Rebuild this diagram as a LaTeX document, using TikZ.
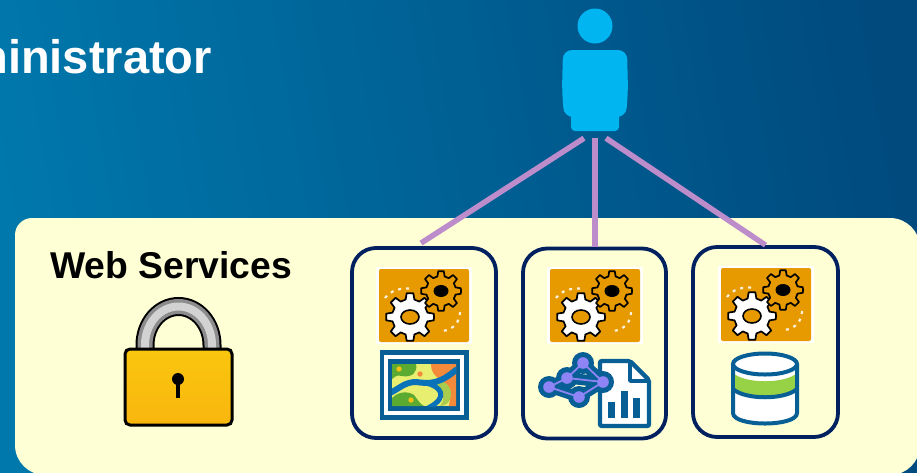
\documentclass[tikz,border=0pt]{standalone}
\usepackage{fontspec}
\setmainfont{Liberation Sans}
\usetikzlibrary{calc}
\definecolor{panelc}{HTML}{FFFFD5}
\definecolor{navy}{HTML}{002060}
\definecolor{skyc}{HTML}{00B5F0}
\definecolor{linkc}{HTML}{BD8CCB}
\definecolor{iconblue}{HTML}{075F95}
\definecolor{tileor}{HTML}{E79A00}
\definecolor{nodev}{HTML}{8E84F5}
\definecolor{mapgreen}{HTML}{5BAA32}
\definecolor{mapyel}{HTML}{E8EE70}
\definecolor{maplime}{HTML}{A8CC4E}
\definecolor{maporange}{HTML}{F58A3A}
\definecolor{mapriver}{HTML}{0A72B8}
\definecolor{gold}{HTML}{F8C010}
\definecolor{bgA}{HTML}{0078AC}
\definecolor{bgB}{HTML}{004A7E}
\tikzset{
  x=1pt,y=-1pt,
  bigtext/.style={font=\fontsize{47}{50}\selectfont\bfseries,text=white,inner sep=0pt},
  titletext/.style={font=\fontsize{37.3}{40}\selectfont\bfseries,text=black,inner sep=0pt},
  svcbox/.style={draw=navy,line width=3.8pt,rounded corners=24pt,minimum height=190pt,inner sep=0pt},
  link/.style={draw=linkc,line width=5.5pt},
  gearline/.style={draw=black,line width=1.7pt,line join=round},
  gearpic/.pic={
    \fill[white] (0,0) rectangle (96,77);
    \fill[tileor,rounded corners=2pt] (3,2) rectangle (93,75);
    \draw[white!85!tileor,line width=2.2pt,dash pattern=on 3pt off 5pt] (9,31) .. controls (14,24) and (24,20) .. (37,22);
    \draw[white!85!tileor,line width=2.2pt,dash pattern=on 3pt off 5pt] (84,45) .. controls (84,54) and (78,63) .. (66,64);
    \begin{scope}[shift={(34,50)}]
      \draw[gearline,fill=white] (0:24)
        \foreach \a in {0,45,...,315}{
          -- ({\a+8}:24) -- ({\a+14}:18) -- ({\a+31}:18) -- ({\a+37}:24)
        } -- cycle;
      \draw[black,line width=1.6pt,fill=tileor] (0,0) ellipse (9 and 7);
    \end{scope}
    \begin{scope}[shift={(65,24)}]
      \draw[gearline,fill=tileor] (0:20)
        \foreach \a in {0,45,...,315}{
          -- ({\a+8}:20) -- ({\a+14}:15) -- ({\a+31}:15) -- ({\a+37}:20)
        } -- cycle;
      \fill[black] (0,0) ellipse (7.5 and 6);
    \end{scope}
  }
}
\begin{document}
\begin{tikzpicture}
\useasboundingbox (0,0) rectangle (917,472);
\clip (0,0) rectangle (917,472);
\shade[left color=bgA,right color=bgB,shading angle=100] (-20,-20) rectangle (937,492);
\fill[panelc,rounded corners=17pt] (15,320) -- (15,218) -- (400,218) [rounded corners=30pt] -- (920,218) -- (920,475) -- (15,475) -- cycle;

\node[bigtext,anchor=base east] (admin) at (212,73) {Administrator};
\node[titletext,anchor=base west] (websvc) at (50,278) {Web Services};

% person
\fill[skyc] (595,26) circle (17.5);
\node[fill=skyc,rounded corners=4pt,minimum width=48pt,minimum height=24pt,inner sep=0pt] (person) at (595,119) {};
\fill[skyc,rounded corners=9pt] (563,50) -- (627,50) -- (628,90) -- (626,117) -- (564,117) -- (562,90) -- cycle;
\coordinate (plL) at ($(person.south)+(-11,7)$);
\coordinate (plM) at ($(person.south)+(0,7)$);
\coordinate (plR) at ($(person.south)+(11,7)$);

% service boxes
\node[svcbox,minimum width=144pt] (box1) at (424,343) {};
\node[svcbox,minimum width=143pt] (box2) at (594.5,343.5) {};
\node[svcbox,minimum width=145pt] (box3) at (765.5,342) {};

% links
\draw[link] (plL) -- ($(box1.north)+(-3,-3)$);
\draw[link] (plM) -- ($(box2.north)+(0.5,0)$);
\draw[link] (plR) -- (box3.north);

% gear tiles
\pic at (376,267) {gearpic};
\pic at (547,267) {gearpic};
\pic at (718,266) {gearpic};

% map icon
\fill[iconblue] (380,350) rectangle (469,420);
\fill[white] (384,355) rectangle (464,415);
\fill[iconblue] (388,359) rectangle (460,411);
\begin{scope}
  \clip (392,364) rectangle (456,406);
  \fill[mapyel] (392,364) rectangle (456,406);
  \fill[mapgreen] (392,364) -- (416,364) .. controls (418,372) and (412,378) .. (402,376) .. controls (396,374) and (394,378) .. (392,379) -- cycle;
  \fill[mapgreen] (392,398) .. controls (400,390) and (410,392) .. (414,395) .. controls (418,400) and (420,404) .. (424,406) -- (392,406) -- cycle;
  \fill[maporange] (431,364) -- (456,364) -- (456,406) -- (449,406) .. controls (452,392) and (446,382) .. (438,378) .. controls (433,374) and (431,370) .. (431,364) -- cycle;
  \fill[maplime] (432,382) .. controls (444,378) and (452,386) .. (451,396) .. controls (450,402) and (446,406) .. (440,406) .. controls (448,396) and (440,388) .. (432,382) -- cycle;
  \draw[mapriver,line width=6pt] (390,393) .. controls (400,388) and (405,382) .. (416,382) .. controls (430,384) and (440,384) .. (457,369);
  \draw[mapriver,line width=5pt] (426,383) .. controls (440,386) and (450,397) .. (428,408);
  \fill[gold] (399,369) circle (2.7);
  \fill[maporange] (420,374) circle (2.7);
  \fill[gold] (411,400) circle (2.7);
\end{scope}

% document + network icon
\draw[iconblue,line width=4.4pt,fill=white,rounded corners=2pt] (600,361) -- (630,361) -- (649,380) -- (649,426) -- (600,426) -- cycle;
\draw[iconblue,line width=3.6pt,line join=round] (630,361) -- (630,381) -- (649,381);
\fill[iconblue] (608,402) rectangle (615,418);
\fill[iconblue] (621,391) rectangle (628,418);
\fill[iconblue] (633,398) rectangle (640,418);
\coordinate (n1) at (549,387);
\coordinate (n2) at (567,378);
\coordinate (n3) at (583,363);
\coordinate (n4) at (603,382);
\coordinate (n5) at (579,397);
\draw[iconblue,line width=11pt,line cap=round,line join=round] (n1) -- (n2) -- (n3) -- (n4) -- (n5) -- (n1) (n2) -- (n4);
\foreach \n in {n1,n2,n3,n4,n5} \fill[iconblue] (\n) circle (11);
\draw[nodev,line width=1.8pt] (n1) -- (n2) -- (n3) -- (n4) -- (n5) -- (n1) (n2) -- (n4);
\foreach \n in {n1,n2,n3,n4,n5} \fill[nodev] (\n) circle (5.8);

% database icon
\draw[iconblue,line width=4pt,fill=white,rounded corners=1pt] (733,364) -- (733,412) .. controls (733,427) and (797,427) .. (797,412) -- (797,364) -- cycle;
\fill[maplime!90!green] (733,373) .. controls (745,384) and (785,384) .. (797,373) -- (797,388) .. controls (785,399) and (745,399) .. (733,388) -- cycle;
\draw[iconblue,line width=4pt] (733,389) .. controls (745,400) and (785,400) .. (797,389);
\draw[iconblue,line width=4pt,fill=white] (765,364) ellipse (32 and 10.5);
\draw[iconblue,line width=4pt] (733,364) -- (733,412) (797,364) -- (797,412);

% padlock
\draw[black,line width=19pt] (145,352) -- (145,345) arc[start angle=180,end angle=0,x radius=33.5,y radius=-38.5] -- (212,352);
\draw[gray!90!white,line width=15pt] (145,352) -- (145,345) arc[start angle=180,end angle=0,x radius=33.5,y radius=-38.5] -- (212,352);
\draw[gray!35!white,line width=8pt] (145,352) -- (145,345) arc[start angle=180,end angle=0,x radius=33.5,y radius=-38.5] -- (212,352);
\draw[black,line width=3pt,top color=gold!90!yellow,bottom color=gold!85!orange,rounded corners=5pt] (125,349) rectangle (232,425);
\fill[black] (178,379) circle (6);
\fill[black] (176,381) rectangle (180,398);
\end{tikzpicture}
\end{document}
